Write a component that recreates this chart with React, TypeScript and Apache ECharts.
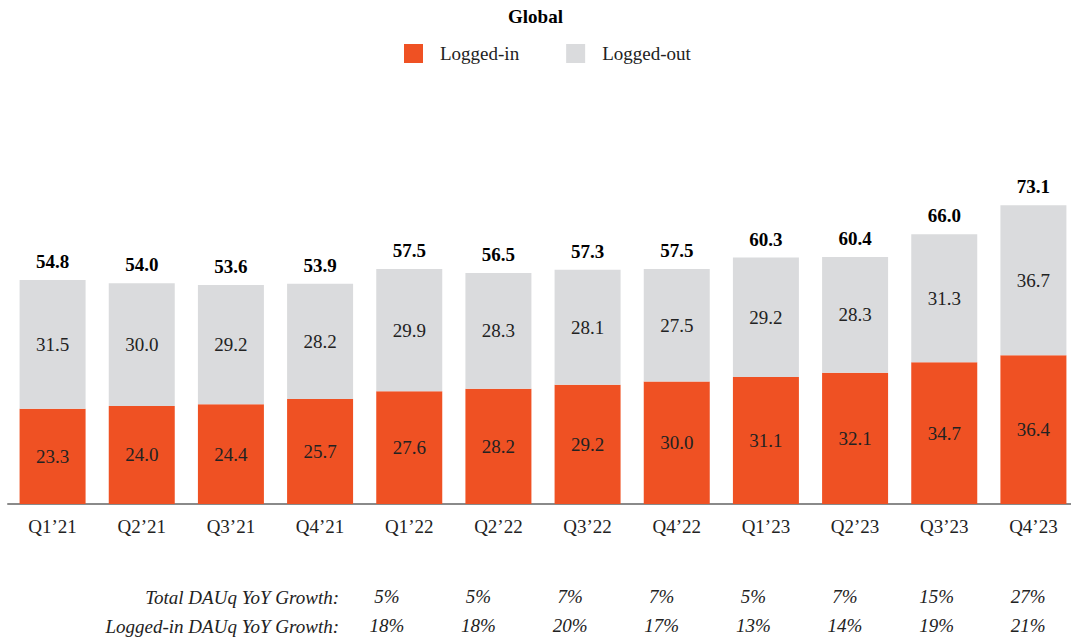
import React, { useEffect, useRef } from "react";
import * as echarts from "echarts";

const quarters = ["Q1’21", "Q2’21", "Q3’21", "Q4’21", "Q1’22", "Q2’22", "Q3’22", "Q4’22", "Q1’23", "Q2’23", "Q3’23", "Q4’23"];
const loggedIn = [23.3, 24.0, 24.4, 25.7, 27.6, 28.2, 29.2, 30.0, 31.1, 32.1, 34.7, 36.4];
const loggedOut = [31.5, 30.0, 29.2, 28.2, 29.9, 28.3, 28.1, 27.5, 29.2, 28.3, 31.3, 36.7];
const totals = [54.8, 54.0, 53.6, 53.9, 57.5, 56.5, 57.3, 57.5, 60.3, 60.4, 66.0, 73.1];
const growthQuarters = ["Q1’22", "Q2’22", "Q3’22", "Q4’22", "Q1’23", "Q2’23", "Q3’23", "Q4’23"];
const totalGrowth = ["5%", "5%", "7%", "7%", "5%", "7%", "15%", "27%"];
const loggedInGrowth = ["18%", "18%", "20%", "17%", "13%", "14%", "19%", "21%"];
const rowLabels = ["Total DAUq YoY Growth:", "Logged-in DAUq YoY Growth:"];

const FONT = "'Liberation Serif', 'Times New Roman', serif";
const ORANGE = "#EF5123";
const GRAY = "#DADBDD";

export default function App() {
  const ref = useRef<HTMLDivElement>(null);
  useEffect(() => {
    if (!ref.current) return;
    const chart = echarts.init(ref.current, null, { renderer: "svg" });
    chart.setOption({
      animation: false,
      textStyle: { fontFamily: FONT },
      title: {
        text: "Global",
        left: "center",
        top: 2,
        textStyle: { fontFamily: FONT, fontSize: 19, fontWeight: "bold", color: "#000" },
      },
      legend: {
        data: ["Logged-in", "Logged-out"],
        left: 399,
        top: 39,
        itemWidth: 19,
        itemHeight: 19,
        itemGap: 47,
        icon: "rect",
        textStyle: { fontFamily: FONT, fontSize: 19, color: "#222", padding: [0, 0, 0, 12] },
      },
      grid: [
        { left: 8, width: 1070, top: 177, height: 327, containLabel: false, outerBoundsMode: "none" },
        { left: 341, width: 733, top: 570, height: 10, containLabel: false, outerBoundsMode: "none" },
      ],
      xAxis: [
        {
          type: "category",
          gridIndex: 0,
          data: quarters,
          axisLine: { lineStyle: { color: "#8a8a8a", width: 2 } },
          axisTick: { show: false },
          axisLabel: { fontFamily: FONT, fontSize: 19, color: "#222", margin: 13 },
        },
        {
          type: "category",
          gridIndex: 1,
          data: growthQuarters,
          axisLine: { show: false },
          axisTick: { show: false },
          axisLabel: {
            fontFamily: FONT,
            fontSize: 19,
            fontStyle: "italic",
            color: "#222",
            margin: 2,
            lineHeight: 29,
            formatter: (_v: string, i: number) => totalGrowth[i] + "\n" + loggedInGrowth[i],
          },
        },
      ],
      yAxis: [
        { type: "value", gridIndex: 0, min: 0, max: 80, show: false },
        { type: "value", gridIndex: 1, min: 0, max: 1, show: false },
      ],
      graphic: rowLabels.map((t, i) => ({
        type: "text",
        x: 339,
        y: 597 + i * 29,
        style: {
          text: t,
          align: "right",
          verticalAlign: "middle",
          fontFamily: FONT,
          fontSize: 19,
          fontStyle: "italic",
          fill: "#222",
        },
      })),
      series: [
        {
          name: "Logged-in",
          type: "bar",
          stack: "dau",
          barWidth: 66,
          data: loggedIn,
          itemStyle: { color: ORANGE },
          label: {
            show: true,
            position: "inside",
            fontFamily: FONT,
            fontSize: 19,
            color: "#222",
            formatter: (p: any) => p.value.toFixed(1),
          },
        },
        {
          name: "Logged-out",
          type: "bar",
          stack: "dau",
          barWidth: 66,
          data: loggedOut,
          itemStyle: { color: GRAY },
          label: {
            show: true,
            position: "inside",
            fontFamily: FONT,
            fontSize: 19,
            color: "#222",
            formatter: (p: any) => p.value.toFixed(1),
          },
        },
        {
          name: "Total",
          type: "bar",
          barWidth: 66,
          barGap: "-100%",
          z: 1,
          data: totals,
          itemStyle: { color: "rgba(0,0,0,0)" },
          label: {
            show: true,
            position: "top",
            distance: 9,
            fontFamily: FONT,
            fontSize: 19,
            fontWeight: "bold",
            color: "#000",
            formatter: (p: any) => p.value.toFixed(1),
          },
          emphasis: { disabled: true },
        },
      ],
    });
    return () => chart.dispose();
  }, []);
  return (
    <div
      ref={ref}
      style={{ position: "fixed", left: 0, top: 0, width: 1071, height: 639, background: "#fff" }}
    />
  );
}
